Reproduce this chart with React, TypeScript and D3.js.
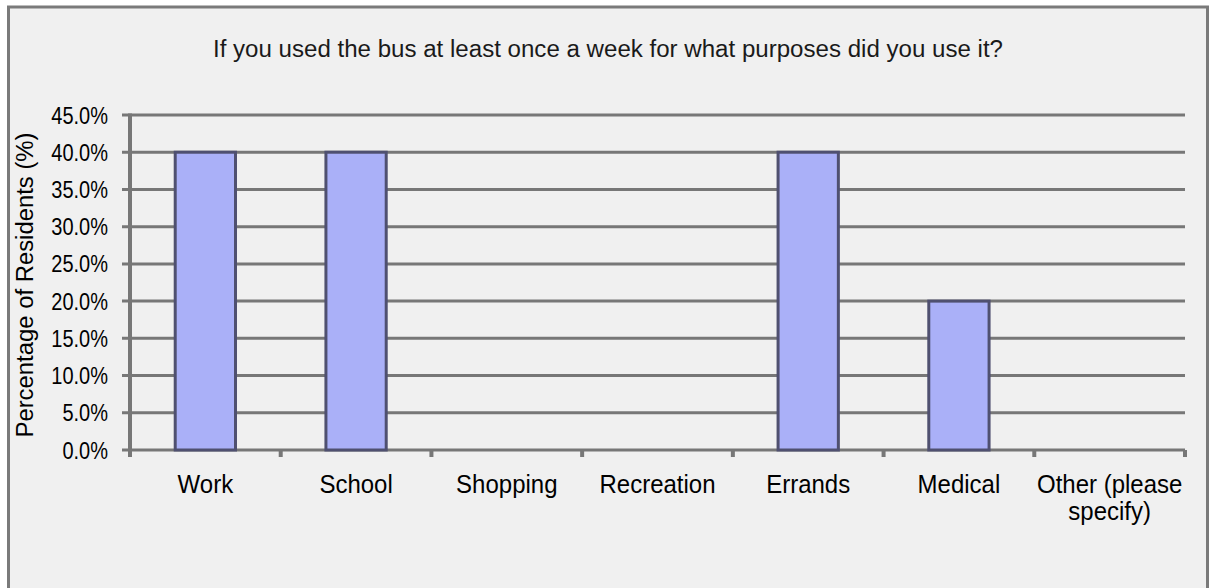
import React from "react";
import * as d3 from "d3";

const width = 1209;
const height = 588;
const margin = { top: 115, right: 24, bottom: 138, left: 130 };

const title =
  "If you used the bus at least once a week for what purposes did you use it?";
const yTitle = "Percentage of Residents (%)";

const categories = [
  "Work",
  "School",
  "Shopping",
  "Recreation",
  "Errands",
  "Medical",
  "Other (please specify)"
];
const categoryLines = [
  ["Work"],
  ["School"],
  ["Shopping"],
  ["Recreation"],
  ["Errands"],
  ["Medical"],
  ["Other (please", "specify)"]
];
const percentages = [0.4, 0.4, 0, 0, 0.4, 0.2, 0];
const yTicks = [0, 0.05, 0.1, 0.15, 0.2, 0.25, 0.3, 0.35, 0.4, 0.45];

const font = "'Liberation Sans', Arial, sans-serif";
const gridColor = "#777777";

export default function App() {
  const xScale = d3
    .scaleBand()
    .domain(categories)
    .range([margin.left, width - margin.right])
    .padding(0);

  const yScale = d3
    .scaleLinear()
    .domain([0, 0.45])
    .range([height - margin.bottom, margin.top]);

  const fmt = d3.format(".1%");
  const step = xScale.bandwidth();
  const barWidth = step * 0.4;
  const y0 = yScale(0);

  return (
    <div style={{ position: "absolute", left: 0, top: 0 }}>
      <svg width={width} height={height} style={{ display: "block" }}>
        <rect x={0} y={0} width={width} height={height} fill="#ffffff" />
        <rect
          x={8.5}
          y={7}
          width={width - 10}
          height={height + 20}
          fill="#f0f0f0"
          stroke="#7a7a7a"
          strokeWidth={3}
        />

        <text
          x={213}
          y={57}
          fontFamily={font}
          fontSize={23}
          fill="#1a1a1a"
          textLength={790}
          lengthAdjust="spacingAndGlyphs"
        >
          {title}
        </text>

        {/* gridlines */}
        {yTicks.map(t => (
          <line
            key={"g" + t}
            x1={margin.left - 8}
            x2={width - margin.right}
            y1={yScale(t)}
            y2={yScale(t)}
            stroke={gridColor}
            strokeWidth={3}
          />
        ))}

        {/* y axis */}
        <line
          x1={margin.left}
          x2={margin.left}
          y1={yScale(0.45) - 1.5}
          y2={y0 + 7}
          stroke={gridColor}
          strokeWidth={4}
        />
        {yTicks.map(t => (
          <text
            key={"l" + t}
            transform={`translate(108, ${yScale(t) + 8.5}) scale(1, 1.2)`}
            textAnchor="end"
            fontFamily={font}
            fontSize={20}
            fill="#000"
          >
            {fmt(t)}
          </text>
        ))}
        <text
          transform={`translate(33, 285) rotate(-90)`}
          textAnchor="middle"
          fontFamily={font}
          fontSize={23}
          fill="#000"
          textLength={305}
          lengthAdjust="spacingAndGlyphs"
        >
          {yTitle}
        </text>

        {/* category ticks */}
        {categories.map(c => (
          <line
            key={"t" + c}
            x1={xScale(c) + step}
            x2={xScale(c) + step}
            y1={y0}
            y2={y0 + 7}
            stroke={gridColor}
            strokeWidth={4}
          />
        ))}

        {/* bars */}
        {categories.map((c, i) =>
          percentages[i] > 0 ? (
            <rect
              key={"b" + c}
              x={xScale(c) + step / 2 - barWidth / 2}
              y={yScale(percentages[i])}
              width={barWidth}
              height={y0 - yScale(percentages[i])}
              fill="#aab0f8"
              stroke="#4f5070"
              strokeWidth={3}
            />
          ) : null
        )}

        {/* category labels */}
        {categories.map((c, i) =>
          categoryLines[i].map((line, j) => (
            <text
              key={"c" + c + j}
              transform={`translate(${xScale(c) + step / 2}, ${493 + j * 27}) scale(1, 1.1)`}
              textAnchor="middle"
              fontFamily={font}
              fontSize={24}
              fill="#000"
            >
              {line}
            </text>
          ))
        )}
      </svg>
    </div>
  );
}
